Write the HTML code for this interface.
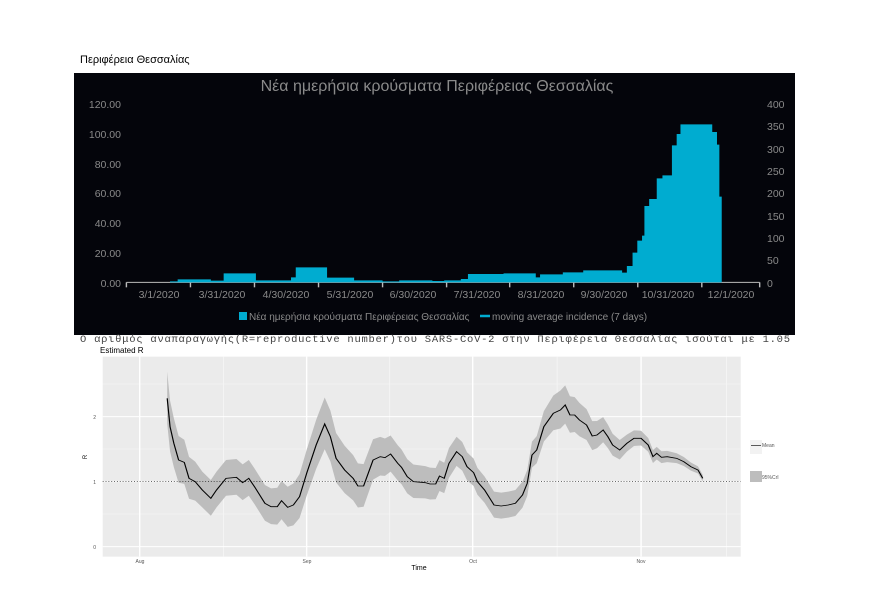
<!DOCTYPE html>
<html><head><meta charset="utf-8"><style>
html,body{margin:0;padding:0;background:#fff;width:872px;height:592px;overflow:hidden}
svg{display:block;font-family:"Liberation Sans",sans-serif}
</style></head><body>
<svg id="s" width="872" height="592" viewBox="0 0 872 592" xmlns="http://www.w3.org/2000/svg">
<text x="80" y="63" font-size="11" fill="#000">Περιφέρεια Θεσσαλίας</text>
<rect x="74" y="73" width="721" height="262" fill="#04050b"/>
<text x="437" y="91" font-size="16" fill="#8a8a8a" text-anchor="middle">Νέα ημερήσια κρούσματα Περιφέρειας Θεσσαλίας</text>
<g font-size="10.5" fill="#8a8a8a">
<text x="121" y="108" text-anchor="end">120.00</text>
<text x="121" y="138" text-anchor="end">100.00</text>
<text x="121" y="168" text-anchor="end">80.00</text>
<text x="121" y="197" text-anchor="end">60.00</text>
<text x="121" y="227" text-anchor="end">40.00</text>
<text x="121" y="257" text-anchor="end">20.00</text>
<text x="121" y="287" text-anchor="end">0.00</text>
<text x="767" y="108">400</text><text x="767" y="130">350</text><text x="767" y="153">300</text>
<text x="767" y="175">250</text><text x="767" y="197">200</text><text x="767" y="220">150</text>
<text x="767" y="242">100</text><text x="767" y="264">50</text><text x="767" y="287">0</text>
</g>
<g id="topg" transform="translate(60,70) scale(0.47436,0.33333)"></g>
<g font-size="10.5" fill="#8a8a8a" text-anchor="middle">
<text x="159" y="298">3/1/2020</text><text x="222" y="298">3/31/2020</text><text x="286" y="298">4/30/2020</text>
<text x="350" y="298">5/31/2020</text><text x="413" y="298">6/30/2020</text><text x="477" y="298">7/31/2020</text>
<text x="541" y="298">8/31/2020</text><text x="604" y="298">9/30/2020</text><text x="668" y="298">10/31/2020</text>
<text x="731" y="298">12/1/2020</text>
</g>
<rect x="239" y="312" width="8" height="8" fill="#00acd0"/>
<text x="249" y="320" font-size="10" fill="#8a8a8a">Νέα ημερήσια κρούσματα Περιφέρειας Θεσσαλίας</text>
<line x1="480" y1="316" x2="490" y2="316" stroke="#00acd0" stroke-width="2.5"/>
<text x="492" y="320" font-size="10" fill="#8a8a8a">moving average incidence (7 days)</text>
<text x="80" y="342" font-size="10.5" fill="#444" font-family="Liberation Mono,monospace" textLength="710" lengthAdjust="spacing">Ο αριθμός αναπαραγωγής(R=reproductive number)του SARS-CoV-2 στην Περιφέρεια Θεσσαλίας ισούται με 1.05</text>
<text x="100" y="353" font-size="8" fill="#000">Estimated R</text>
<g id="botg" transform="translate(60,330) scale(0.47436,0.33333)"></g>
<g font-size="5" fill="#555" text-anchor="middle">
<text x="140" y="563">Aug</text><text x="307" y="563">Sep</text><text x="473" y="563">Oct</text><text x="641" y="563">Nov</text>
<text x="96" y="549" text-anchor="end">0</text><text x="96" y="484" text-anchor="end">1</text><text x="96" y="419" text-anchor="end">2</text>
<text x="762" y="447" text-anchor="start">Mean</text><text x="762" y="479" text-anchor="start">95%CrI</text>
</g>
<text x="419" y="570" font-size="7" text-anchor="middle">Time</text>
<text x="87" y="457" font-size="6" text-anchor="middle" transform="rotate(-90 87 457)">R</text>
<rect x="750" y="440" width="12" height="14" fill="#f2f2f2"/>
<line x1="751" y1="445.5" x2="761" y2="445.5" stroke="#333" stroke-width="0.8"/>
<rect x="750" y="471" width="12" height="11" fill="#bdbdbd"/>
</svg>
<script>
(function(){
var NS="http://www.w3.org/2000/svg";
function el(p,t,a){var e=document.createElementNS(NS,t);for(var k in a)e.setAttribute(k,a[k]);p.appendChild(e);return e;}
var tg=document.getElementById("topg");
el(tg,"line",{x1:140,y1:637,x2:1475,y2:637,stroke:"#bbb","stroke-width":3});
[140,275,410,545,680,815,948,1083,1218,1353,1475].forEach(function(x){el(tg,"line",{x1:x,y1:637,x2:x,y2:652,stroke:"#bbb","stroke-width":3});});
var st=[[232,634],[248,628],[318,632],[345,610],[413,631],[487,622],[497,592],[563,623],[620,631],[680,634],[715,631],[785,633],[810,631],[845,627],[860,612],[935,610],[1003,622],[1012,613],[1060,607],[1103,601],[1185,608],[1195,588],[1207,548],[1217,512],[1227,497],[1232,408],[1242,387],[1258,325],[1270,316],[1290,226],[1300,192],[1308,163],[1375,186],[1385,224],[1390,380],[1395,637]];
var d="M232,637";for(var i=0;i<st.length;i++){d+=" L"+st[i][0]+","+(i?st[i-1][1]:637)+" L"+st[i][0]+","+st[i][1];}
d+=" Z";el(tg,"path",{d:d,fill:"#00acd0"});
var bg=document.getElementById("botg");
el(bg,"rect",{x:90,y:80,width:1345,height:600,fill:"#ebebeb"});
[345,695,1048,1405].forEach(function(x){el(bg,"line",{x1:x,y1:80,x2:x,y2:680,stroke:"#f7f7f7","stroke-width":1.5});});
[552,357,162].forEach(function(y){el(bg,"line",{x1:90,y1:y,x2:1435,y2:y,stroke:"#f7f7f7","stroke-width":1.5});});
[168,520,870,1225].forEach(function(x){el(bg,"line",{x1:x,y1:80,x2:x,y2:680,stroke:"#fff","stroke-width":3});});
[650,455,260].forEach(function(y){el(bg,"line",{x1:90,y1:y,x2:1435,y2:y,stroke:"#fff","stroke-width":3});});
var m=[[226,205],[232,290],[240,340],[250,390],[262,397],[272,445],[285,455],[300,480],[318,505],[330,480],[350,445],[372,442],[385,458],[398,445],[410,470],[432,520],[445,530],[458,530],[467,512],[480,532],[492,525],[505,500],[520,430],[540,345],[558,282],[570,320],[582,385],[600,420],[618,445],[628,468],[640,468],[660,390],[675,380],[685,383],[697,372],[712,400],[720,412],[732,440],[745,455],[770,458],[780,462],[792,462],[800,438],[810,445],[820,400],[836,365],[848,380],[858,410],[872,428],[880,455],[895,480],[915,525],[930,528],[945,525],[960,520],[975,495],[985,460],[995,375],[1005,360],[1020,290],[1040,250],[1055,240],[1065,225],[1075,255],[1085,255],[1095,270],[1110,285],[1122,318],[1132,315],[1145,300],[1155,320],[1165,345],[1180,360],[1195,340],[1210,325],[1225,325],[1240,345],[1250,380],[1258,370],[1268,382],[1280,380],[1300,385],[1315,395],[1330,410],[1345,420],[1355,445]];
var W=[[226,80],[300,55],[450,55],[560,80],[700,55],[900,40],[1000,40],[1060,60],[1200,25],[1355,10]];
function w(x){for(var i=1;i<W.length;i++){if(x<=W[i][0]){var a=W[i-1],b=W[i];return a[1]+(b[1]-a[1])*(x-a[0])/(b[0]-a[0]);}}return 10;}
var up=m.map(function(p){return p[0]+","+(p[1]-w(p[0]));});
var lo=m.slice().reverse().map(function(p){return p[0]+","+(p[1]+w(p[0])*0.95);});
el(bg,"polygon",{points:up.concat(lo).join(" "),fill:"#bdbdbd"});
el(bg,"line",{x1:90,y1:455,x2:1435,y2:455,stroke:"#000","stroke-width":2,"stroke-dasharray":"2,4"});
el(bg,"polyline",{points:m.map(function(p){return p.join(",");}).join(" "),fill:"none",stroke:"#000","stroke-width":2.5});
})();
</script>
</body></html>
